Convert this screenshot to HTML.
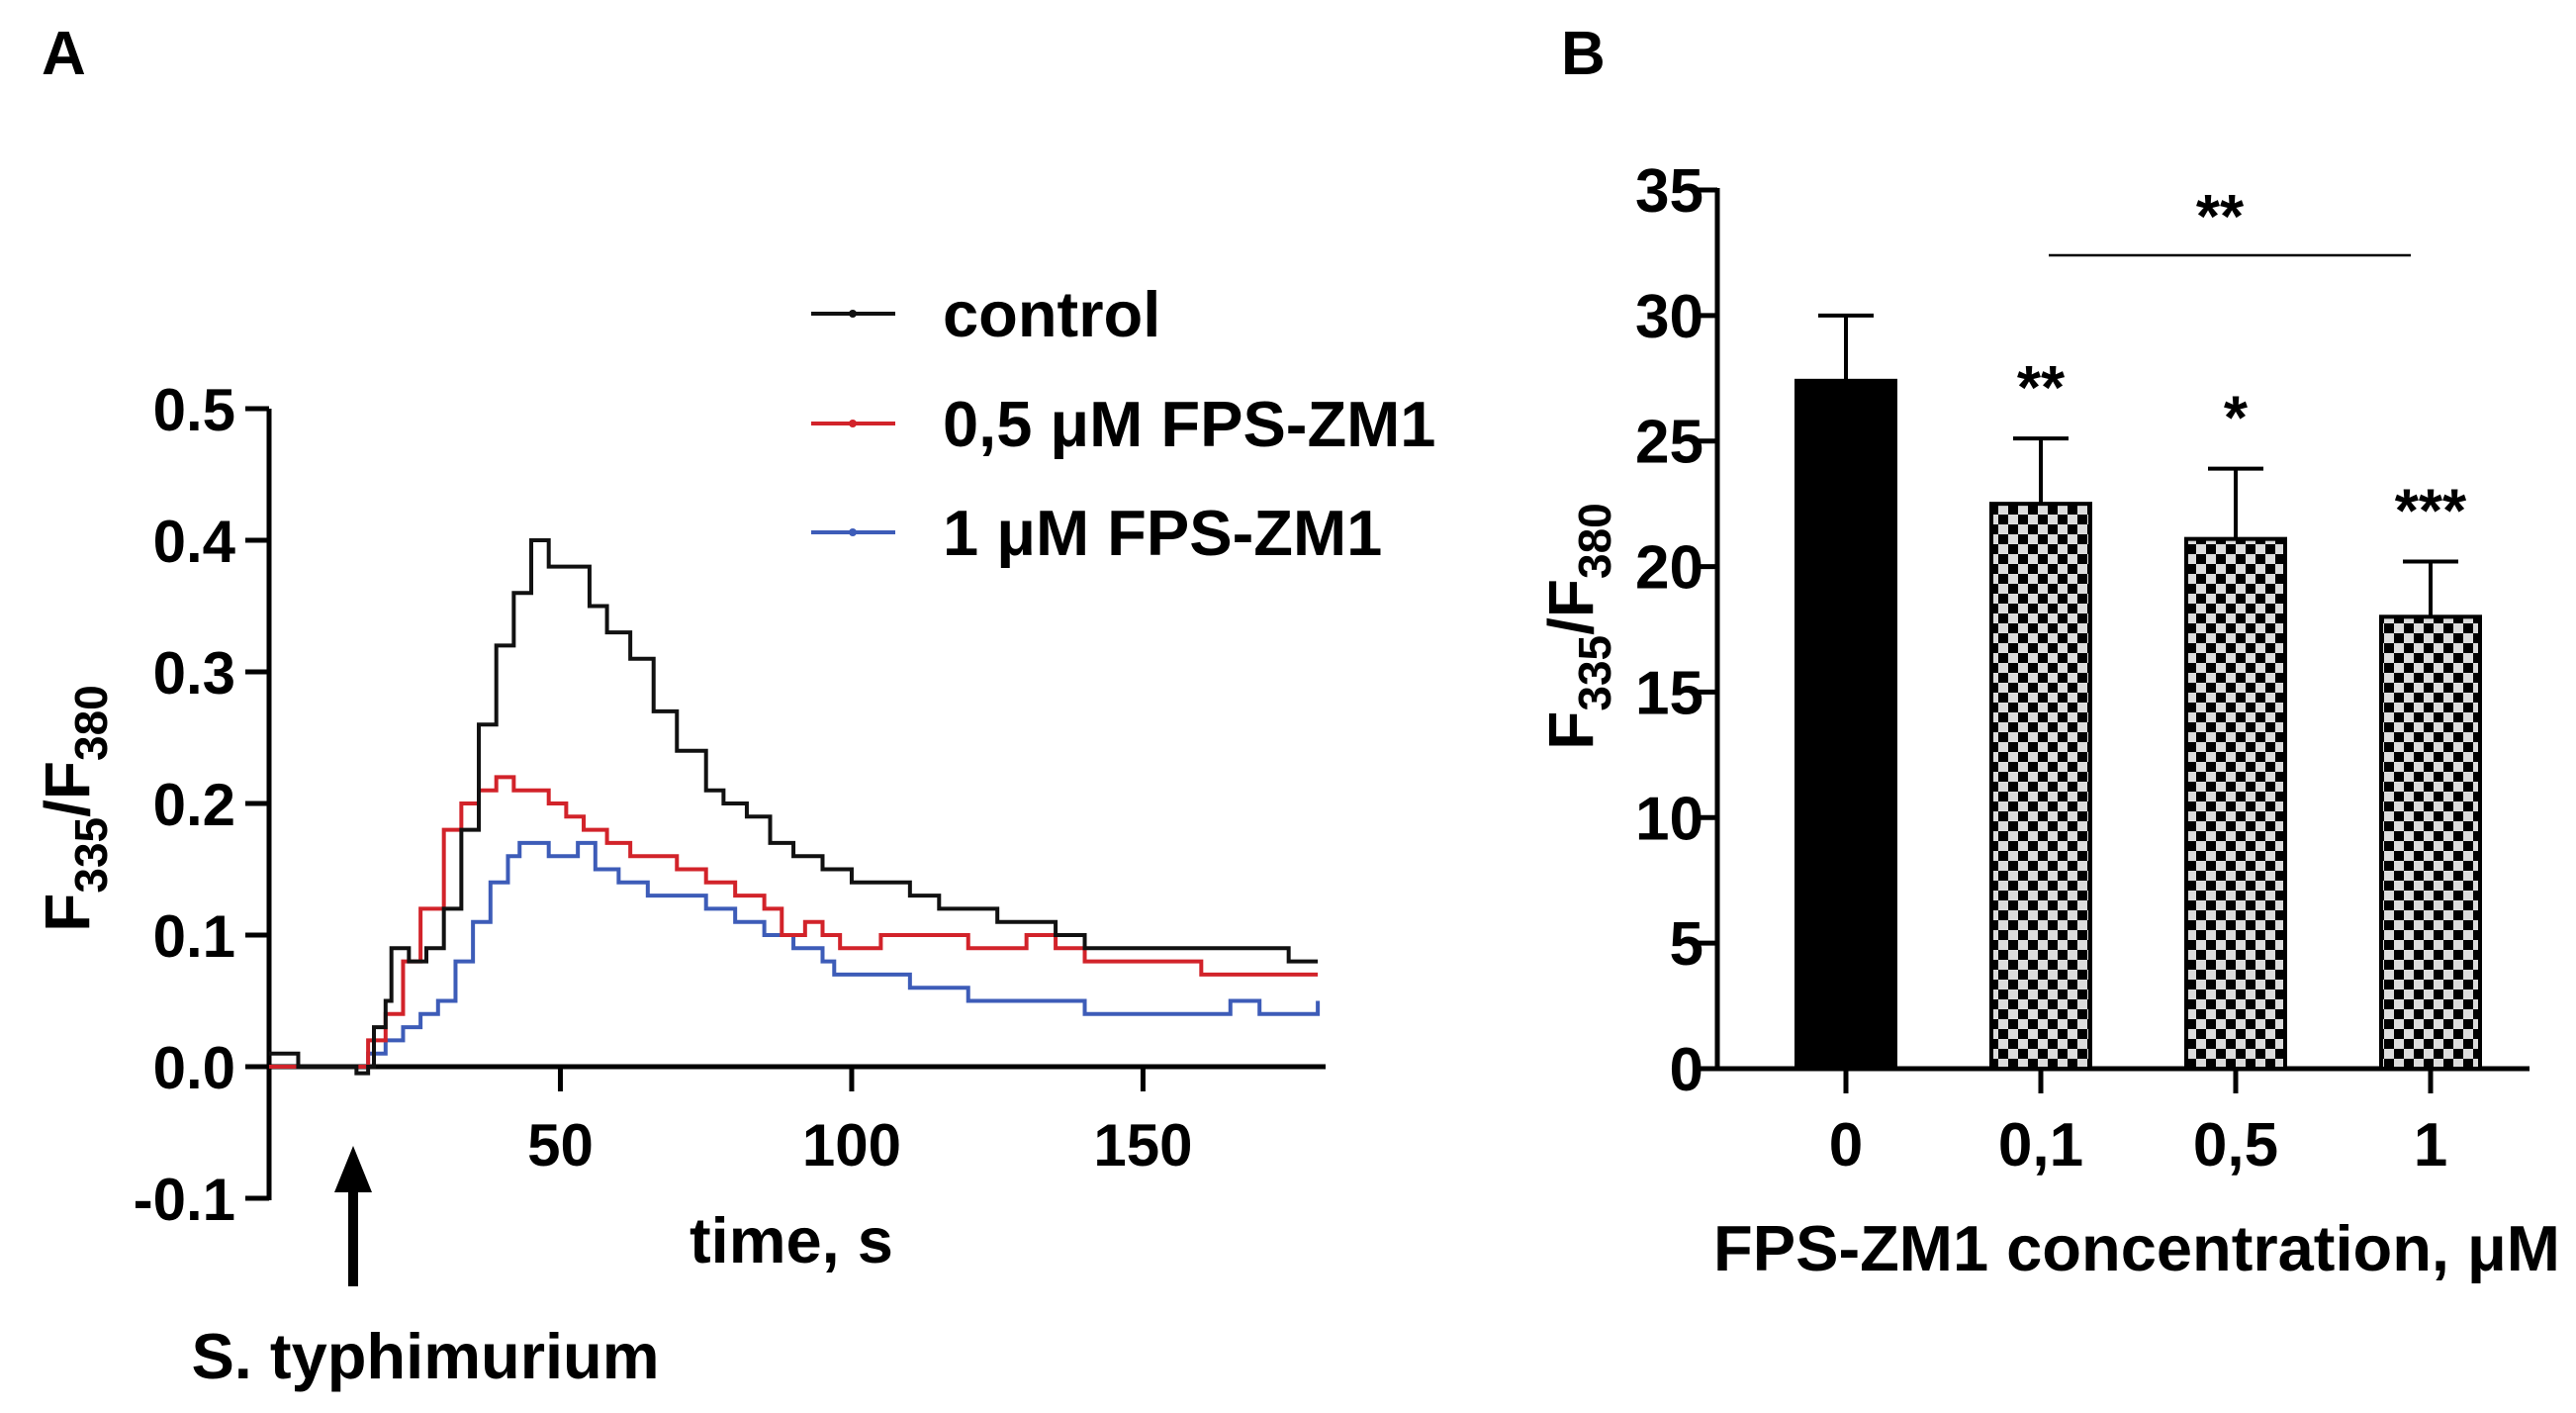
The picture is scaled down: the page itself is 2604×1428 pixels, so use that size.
<!DOCTYPE html>
<html><head><meta charset="utf-8"><style>
html,body{margin:0;padding:0;background:#fff;}
svg{display:block;font-family:"Liberation Sans",Arial,sans-serif;font-weight:bold;}
</style></head><body>
<svg id="fig" width="2604" height="1428" viewBox="0 0 2604 1428" xmlns="http://www.w3.org/2000/svg">
<defs>
<pattern id="checker" width="20" height="20" patternUnits="userSpaceOnUse">
<rect width="20" height="20" fill="#dcdcdc"/>
<rect width="10" height="10" fill="#000"/>
<rect x="10" y="10" width="10" height="10" fill="#000"/>
</pattern>
</defs>
<text x="42" y="75" font-size="62">A</text>
<text x="1578" y="75" font-size="62">B</text>
<g id="panelA"></g>
<g id="panelB"></g>
</svg>
<script>
// ---- Panel A data ----
const ctrlT = [0,5,10,15,17,18,20,21,24,27,30,33,36,39,42,45,48,52,55,58,62,66,70,75,78,82,86,90,95,100,105,110,115,120,125,130,135,140,150,160,170,175,180];
const ctrlV = [0.01,0.0,0.0,-0.005,0.0,0.03,0.05,0.09,0.08,0.09,0.12,0.18,0.26,0.32,0.36,0.40,0.38,0.38,0.35,0.33,0.31,0.27,0.24,0.21,0.20,0.19,0.17,0.16,0.15,0.14,0.14,0.13,0.12,0.12,0.11,0.11,0.10,0.09,0.09,0.09,0.09,0.08,0.08];
const redT = [0,5,10,15,17,20,23,26,30,33,36,39,42,45,48,51,54,58,62,66,70,75,80,85,88,92,95,98,100,105,110,120,130,135,140,150,160,170,180];
const redV = [0.0,0.0,0.0,0.0,0.02,0.04,0.08,0.12,0.18,0.20,0.21,0.22,0.21,0.21,0.20,0.19,0.18,0.17,0.16,0.16,0.15,0.14,0.13,0.12,0.10,0.11,0.10,0.09,0.09,0.10,0.10,0.09,0.10,0.09,0.08,0.08,0.07,0.07,0.07];
const blueT = [0,5,10,15,17,20,23,26,29,32,35,38,41,43,48,53,56,60,65,70,75,80,85,90,95,97,100,105,110,115,120,130,135,140,150,160,165,170,180];
const blueV = [0.0,0.0,0.0,0.0,0.01,0.02,0.03,0.04,0.05,0.08,0.11,0.14,0.16,0.17,0.16,0.17,0.15,0.14,0.13,0.13,0.12,0.11,0.10,0.09,0.08,0.07,0.07,0.07,0.06,0.06,0.05,0.05,0.05,0.04,0.04,0.04,0.05,0.04,0.05];
const aYTicks = [0.5,0.4,0.3,0.2,0.1,0.0,-0.1];
const aYTickLabels = ["0.5","0.4","0.3","0.2","0.1","0.0","-0.1"];
const aXTicks = [50,100,150];
const aXTickLabels = ["50","100","150"];
const legendLabels = ["control","0,5 \u03bcM FPS-ZM1","1 \u03bcM FPS-ZM1"];
// ---- Panel B data ----
const bCategories = ["0","0,1","0,5","1"];
const bMeans = [27.4,22.5,21.1,18.0];
const bErrors = [2.6,2.6,2.8,2.2];
const bStars = ["","**","*","***"];
const bYTicks = [0,5,10,15,20,25,30,35];

const NS="http://www.w3.org/2000/svg";
function mk(parent,tag,attrs,text){const e=document.createElementNS(NS,tag);for(const k in attrs)e.setAttribute(k,attrs[k]);if(text!==undefined)e.textContent=text;parent.appendChild(e);return e;}

const A = document.getElementById('panelA');
const ax = t => 272 + t*(1338-272)/181;
const ay = v => 1078 - v*1330;
let e;
e=mk(A,'line',{x1:272,y1:ay(0.5),x2:272,y2:ay(-0.1)+2,stroke:'#000','stroke-width':5});


e=mk(A,'line',{x1:270,y1:ay(0),x2:1340,y2:ay(0),stroke:'#000','stroke-width':5});


aYTicks.forEach((v,i)=>{
  e=mk(A,'line',{x1:248,y1:ay(v),x2:272,y2:ay(v),stroke:'#000','stroke-width':5});
  
  
  e=mk(A,'text',{x:238,y:ay(v)+22,'font-size':60,'text-anchor':'end'},aYTickLabels[i]);
  
  
});
aXTicks.forEach((t,i)=>{
  e=mk(A,'line',{x1:ax(t),y1:ay(0),x2:ax(t),y2:ay(0)+25,stroke:'#000','stroke-width':5});
  
  
  e=mk(A,'text',{x:ax(t),y:1178,'font-size':60,'text-anchor':'middle'},aXTickLabels[i]);
  
  
});
function stepPath(T,V){let d='M'+ax(T[0])+','+ay(V[0]);for(let i=1;i<T.length;i++){d+=' H'+ax(T[i])+' V'+ay(V[i]);}return d;}
const series=[[ctrlT,ctrlV,'#111','series-control'],[redT,redV,'#d2232a','series-0-5-um'],[blueT,blueV,'#3d5cb8','series-1-um']];
[series[2],series[1],series[0]].forEach(s=>{
  e=mk(A,'path',{d:stepPath(s[0],s[1]),fill:'none',stroke:s[2],'stroke-width':4});
  
  
});
const legY=[317,428,538];
series.forEach((s,i)=>{
  e=mk(A,'line',{x1:820,y1:legY[i],x2:905,y2:legY[i],stroke:s[2],'stroke-width':4});
  
  
  e=mk(A,'circle',{cx:862,cy:legY[i],r:4,fill:s[2]});
  
  
  e=mk(A,'text',{x:953,y:legY[i]+23,'font-size':65},legendLabels[i]);
  
  
});
e=mk(A,'text',{transform:'translate(90,817) rotate(-90)','font-size':64,'text-anchor':'middle'});
e.innerHTML='F<tspan font-size="46" dy="18">335</tspan><tspan dy="-18">/F</tspan><tspan font-size="46" dy="18">380</tspan>';


e=mk(A,'text',{x:800,y:1276,'font-size':65,'text-anchor':'middle'},'time, s');


e=mk(A,'path',{d:'M357,1158 L338,1205 L352,1205 L352,1300 L362,1300 L362,1205 L376,1205 Z',fill:'#000'});


e=mk(A,'text',{x:430,y:1393,'font-size':65,'text-anchor':'middle'},'S. typhimurium');



const B=document.getElementById('panelB');
const by = v => 1080 - v*(1080-192)/35;
const bx = i => 1866 + i*197;
const bw = 100;
e=mk(B,'line',{x1:1736,y1:190,x2:1736,y2:1082,stroke:'#000','stroke-width':5});


e=mk(B,'line',{x1:1734,y1:1080,x2:2557,y2:1080,stroke:'#000','stroke-width':5});


bYTicks.forEach(v=>{
  e=mk(B,'line',{x1:1712,y1:by(v),x2:1736,y2:by(v),stroke:'#000','stroke-width':5});
  
  
  e=mk(B,'text',{x:1722,y:by(v)+22,'font-size':62,'text-anchor':'end'},String(v));
  
  
});
bCategories.forEach((c,i)=>{
  const x=bx(i);
  e=mk(B,'line',{x1:x,y1:by(bMeans[i]),x2:x,y2:by(bMeans[i]+bErrors[i]),stroke:'#000','stroke-width':4});
  
  
  e=mk(B,'line',{x1:x-28,y1:by(bMeans[i]+bErrors[i]),x2:x+28,y2:by(bMeans[i]+bErrors[i]),stroke:'#000','stroke-width':4});
  
  
  e=mk(B,'rect',{x:x-bw/2,y:by(bMeans[i]),width:bw,height:by(0)-by(bMeans[i]),fill:i===0?'#000':'url(#checker)',stroke:'#000','stroke-width':4});
  
  
  e=mk(B,'line',{x1:x,y1:1080,x2:x,y2:1105,stroke:'#000','stroke-width':5});
  
  
  e=mk(B,'text',{x:x,y:1178,'font-size':62,'text-anchor':'middle'},c);
  
  
  if(bStars[i]){
    e=mk(B,'text',{x:x,y:by(bMeans[i]+bErrors[i])-30,'font-size':62,'text-anchor':'middle'},bStars[i]);
    
    
  }
});
e=mk(B,'line',{x1:2071,y1:258,x2:2437,y2:258,stroke:'#000','stroke-width':2.5});


e=mk(B,'text',{x:2244,y:240,'font-size':62,'text-anchor':'middle'},'**');


e=mk(B,'text',{transform:'translate(1610,633) rotate(-90)','font-size':64,'text-anchor':'middle'});
e.innerHTML='F<tspan font-size="46" dy="18">335</tspan><tspan dy="-18">/F</tspan><tspan font-size="46" dy="18">380</tspan>';


e=mk(B,'text',{x:2160,y:1284,'font-size':65,'text-anchor':'middle'},'FPS-ZM1 concentration, \u03bcM');


</script>
</body></html>
